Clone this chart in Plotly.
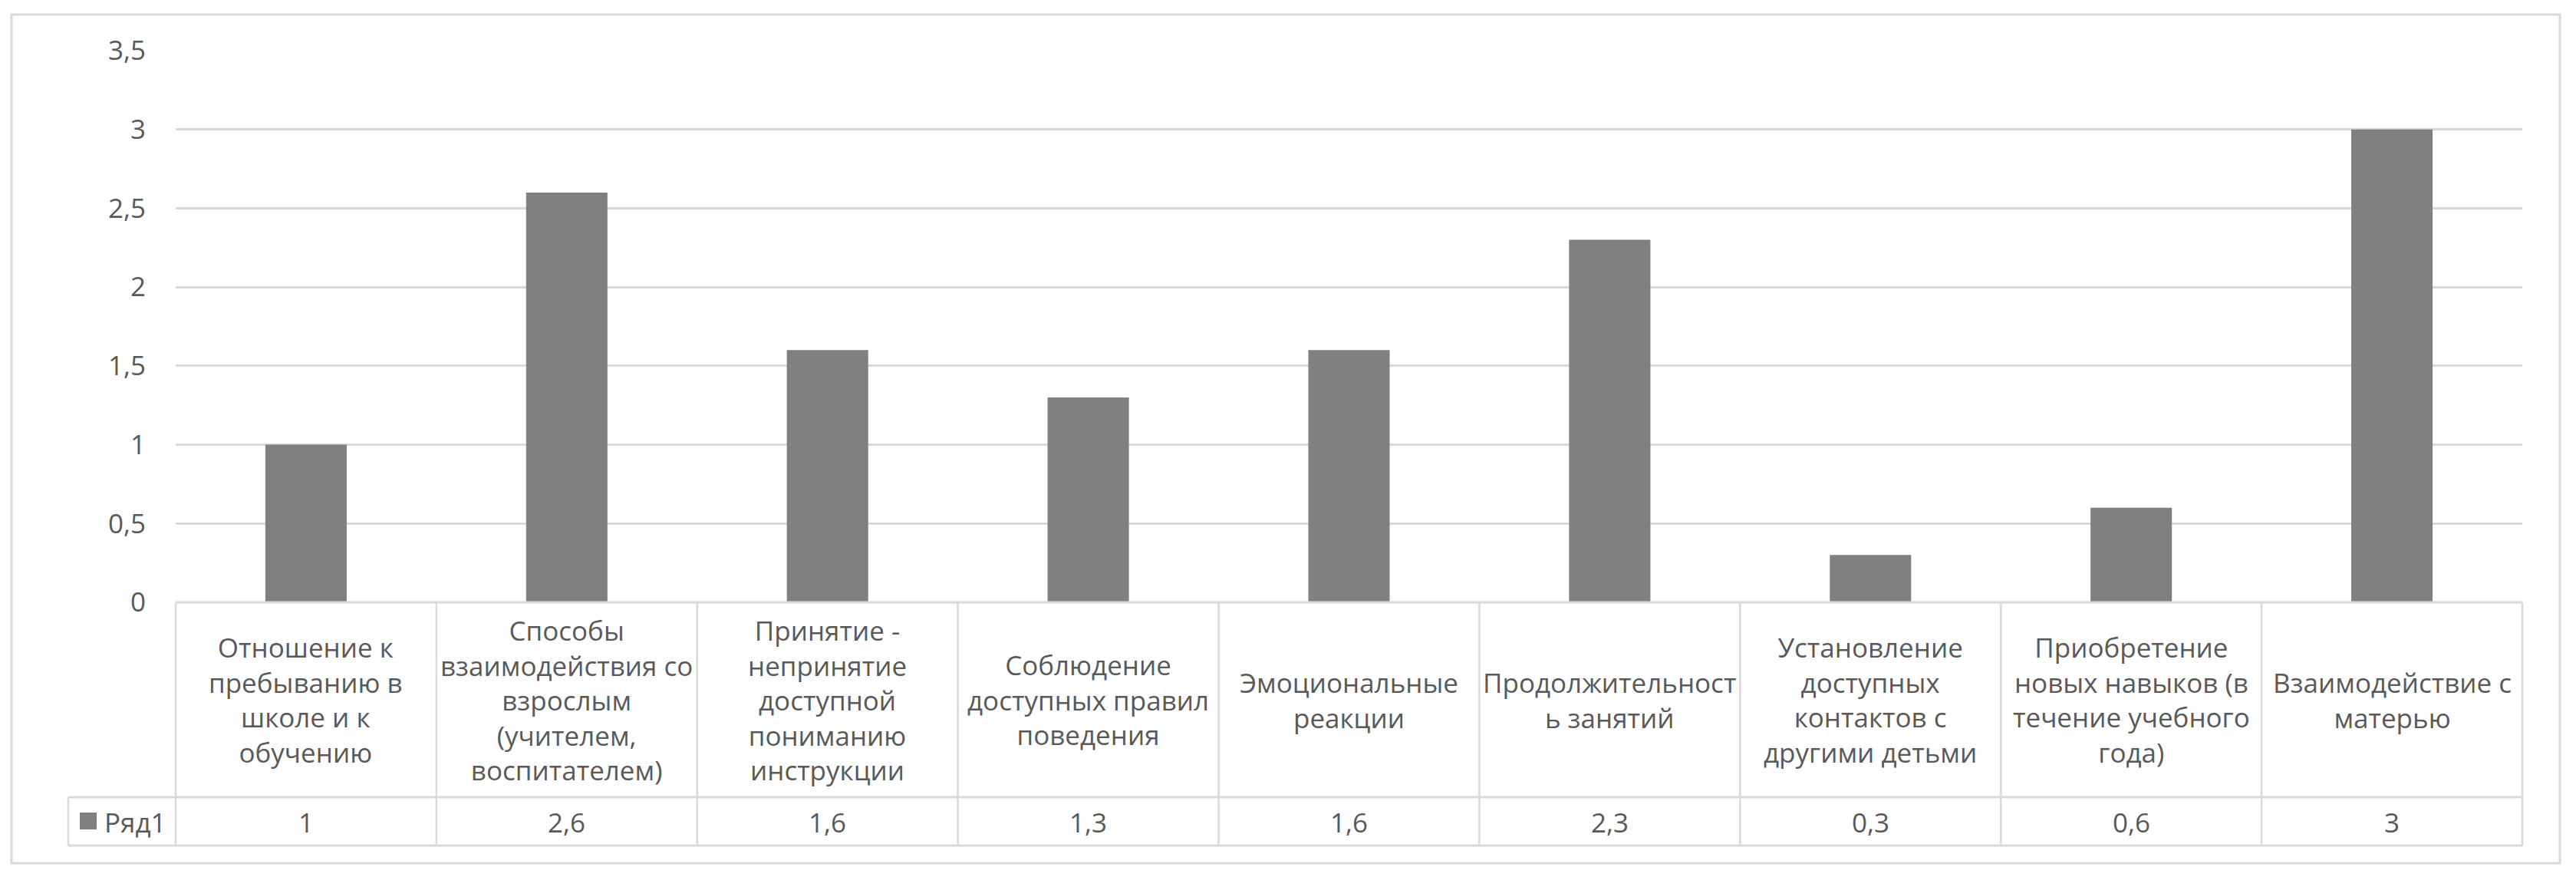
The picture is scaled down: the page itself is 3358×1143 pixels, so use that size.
import plotly.graph_objects as go

categories = [
    "Отношение к<br>пребыванию в<br>школе и к<br>обучению",
    "Способы<br>взаимодействия со<br>взрослым<br>(учителем,<br>воспитателем)",
    "Принятие -<br>непринятие<br>доступной<br>пониманию<br>инструкции",
    "Соблюдение<br>доступных правил<br>поведения",
    "Эмоциональные<br>реакции",
    "Продолжительност<br>ь занятий",
    "Установление<br>доступных<br>контактов с<br>другими детьми",
    "Приобретение<br>новых навыков (в<br>течение учебного<br>года)",
    "Взаимодействие с<br>матерью",
]
values = [1, 2.6, 1.6, 1.3, 1.6, 2.3, 0.3, 0.6, 3]
series_name = "Ряд1"
y_ticks = [0, 0.5, 1, 1.5, 2, 2.5, 3, 3.5]

W, H = 3358, 1143
PL, PR = 229, 3288   # plot area x in px
PT, PB = 66, 785     # plot area y in px
TXT = "#595959"
LINE = "#d9d9d9"
BAR = "#808080"
FONT = "'Open Sans', sans-serif"
FS = 35

def fx(px):
    return (px - PL) / (PR - PL)

def fy(py):
    return (PB - py) / (PB - PT)

idx = list(range(len(categories)))
fig = go.Figure()
fig.add_trace(go.Bar(x=idx, y=values, marker=dict(color=BAR, line=dict(width=0)),
                     width=0.312, name=series_name, showlegend=False, hoverinfo="y"))

row1_bottom = 1039
row2_bottom = 1102
legend_left = 89

shapes = []
# outer chart border
shapes.append(dict(type="rect", xref="paper", yref="paper", x0=fx(15), x1=fx(3337),
                   y0=fy(1125), y1=fy(19), line=dict(color=LINE, width=3), layer="below"))
# table horizontal lines
shapes.append(dict(type="line", xref="paper", yref="paper", x0=0, x1=1, y0=0, y1=0,
                   line=dict(color=LINE, width=3)))
for yy in (row1_bottom, row2_bottom):
    shapes.append(dict(type="line", xref="paper", yref="paper", x0=fx(legend_left), x1=1,
                       y0=fy(yy), y1=fy(yy), line=dict(color=LINE, width=3)))
# vertical lines
n = len(categories)
for i in range(n + 1):
    shapes.append(dict(type="line", xref="paper", yref="paper", x0=i / n, x1=i / n,
                       y0=0, y1=fy(row2_bottom), line=dict(color=LINE, width=2.5)))
shapes.append(dict(type="line", xref="paper", yref="paper", x0=fx(legend_left), x1=fx(legend_left),
                   y0=fy(row1_bottom), y1=fy(row2_bottom), line=dict(color=LINE, width=2.5)))
# legend key square
shapes.append(dict(type="rect", xref="paper", yref="paper", x0=fx(104), x1=fx(126),
                   y0=fy(1081), y1=fy(1059), fillcolor=BAR, line=dict(width=0)))

annotations = []
for i, (c, v) in enumerate(zip(categories, values)):
    annotations.append(dict(x=i, xref="x", y=fy(912), yref="paper", text=c, showarrow=False,
                            xanchor="center", yanchor="middle", align="center",
                            font=dict(family=FONT, size=FS, color=TXT)))
    annotations.append(dict(x=i, xref="x", y=fy(1071), yref="paper",
                            text=str(v).replace(".", ","), showarrow=False,
                            xanchor="center", yanchor="middle",
                            font=dict(family=FONT, size=FS, color=TXT)))
annotations.append(dict(x=fx(134), xref="paper", y=fy(1071), yref="paper", text=series_name,
                        showarrow=False, xanchor="left", yanchor="middle",
                        font=dict(family=FONT, size=FS, color=TXT)))

fig.update_layout(
    width=W, height=H,
    margin=dict(l=PL, r=W - PR, t=PT, b=H - PB, pad=0),
    paper_bgcolor="white", plot_bgcolor="white",
    separators=", ",
    bargap=0.69,
    shapes=shapes, annotations=annotations,
    font=dict(family=FONT, size=FS, color=TXT),
    xaxis=dict(range=[-0.5, n - 0.5], showticklabels=False, showgrid=False, zeroline=False,
               showline=False, ticks="", fixedrange=True),
    yaxis=dict(range=[0, 3.5], tickvals=y_ticks, showgrid=True, gridcolor=LINE, gridwidth=2.5,
               zeroline=False, showline=False, ticks="", ticklabelstandoff=38,
               tickfont=dict(family=FONT, size=FS, color=TXT), fixedrange=True),
)

fig.write_html("out.html", config={"displayModeBar": False},
               post_script="document.body.style.margin='0';")
